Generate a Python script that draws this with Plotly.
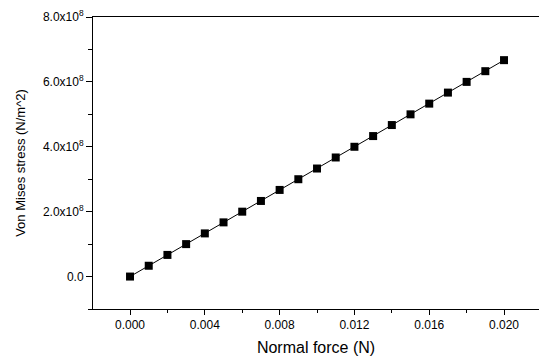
import plotly.graph_objects as go

normal_force = [0.000, 0.001, 0.002, 0.003, 0.004, 0.005, 0.006, 0.007, 0.008, 0.009, 0.010,
                0.011, 0.012, 0.013, 0.014, 0.015, 0.016, 0.017, 0.018, 0.019, 0.020]
von_mises = [0.0, 3.33e7, 6.67e7, 1.00e8, 1.33e8, 1.67e8, 2.00e8, 2.33e8, 2.67e8, 3.00e8, 3.33e8,
             3.67e8, 4.00e8, 4.33e8, 4.67e8, 5.00e8, 5.33e8, 5.67e8, 6.00e8, 6.33e8, 6.67e8]

y_tickvals = [0, 2e8, 4e8, 6e8, 8e8]
y_ticktext = ["0.0", "2.0x10<sup>8</sup>", "4.0x10<sup>8</sup>", "6.0x10<sup>8</sup>", "8.0x10<sup>8</sup>"]
x_tickvals = [0.000, 0.004, 0.008, 0.012, 0.016, 0.020]
x_ticktext = ["0.000", "0.004", "0.008", "0.012", "0.016", "0.020"]

x_range = [-0.00198, 0.02187]
y_range = [-1.0e8, 8.0e8]

FONT = "Liberation Sans, Arial, sans-serif"

fig = go.Figure()
fig.add_trace(go.Scatter(
    x=normal_force, y=von_mises, mode="lines+markers",
    line=dict(color="black", width=1),
    marker=dict(symbol="square", size=8, color="black"),
    showlegend=False,
))

fig.update_layout(
    width=539, height=361,
    margin=dict(l=93, r=0, t=17, b=52),
    paper_bgcolor="white", plot_bgcolor="white",
    font=dict(family=FONT, color="black", size=12),
    xaxis=dict(
        range=x_range, tickvals=x_tickvals, ticktext=x_ticktext,
        ticks="outside", ticklen=5, tickwidth=1, tickcolor="black",
        showline=True, linecolor="black", linewidth=1, mirror=True,
        showgrid=False, zeroline=False,
        minor=dict(dtick=0.002, tick0=0, ticks="outside", ticklen=3, tickcolor="black", showgrid=False),
        title=dict(text="Normal force (N)", font=dict(size=16), standoff=10),
        tickfont=dict(size=12),
    ),
    yaxis=dict(
        range=y_range, tickvals=y_tickvals, ticktext=y_ticktext,
        ticks="outside", ticklen=6, tickwidth=1, tickcolor="black",
        showline=True, linecolor="black", linewidth=1,
        showgrid=False, zeroline=False,
        minor=dict(dtick=1e8, tick0=0, ticks="outside", ticklen=4, tickcolor="black", showgrid=False),
        title=dict(text="Von Mises stress (N/m^2)", font=dict(size=13), standoff=14),
        tickfont=dict(size=12),
    ),
)

fig.write_html(
    "out.html",
    config={"displayModeBar": False},
    post_script="document.body.style.margin='0px';document.body.style.overflow='hidden';",
)
